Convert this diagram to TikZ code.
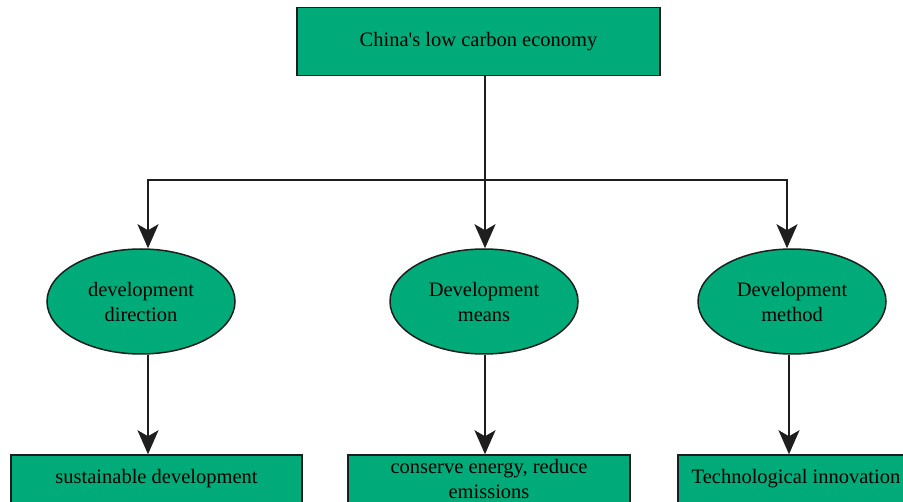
\documentclass[tikz,border=0pt]{standalone}
\usepackage{fontspec}
\setmainfont{Liberation Serif}[Ligatures=TeXOff]
\usetikzlibrary{shapes.geometric,arrows.meta}
\definecolor{boxgreen}{RGB}{0,171,122}
\definecolor{edge}{RGB}{30,30,30}
\tikzset{
  x=1pt,y=-1pt,
  box/.style={draw=edge,line width=1.5pt,fill=boxgreen,minimum width=363pt,minimum height=68pt,inner sep=0pt,align=center,font=\fontsize{20.5}{25}\selectfont},
  lowbox/.style={box,minimum width=291pt,minimum height=48pt},
  oval/.style={ellipse,draw=edge,line width=1.5pt,fill=boxgreen,minimum width=188pt,minimum height=105pt,inner sep=0pt,align=center,font=\fontsize{20.5}{25}\selectfont},
  link/.style={draw=edge,line width=2.2pt},
  arrow/.style={link,-{Stealth[length=24pt,width=21pt,inset=6pt]}}
}
\begin{document}
\begin{tikzpicture}
\useasboundingbox (0,0) rectangle (903,502);
\clip (0,0) rectangle (903,502);
\fill[white] (0,0) rectangle (903,502);
\node[box] (top) at (478.5,41.5) {China's low carbon economy};
\node[oval] (l) at (141,301.5) {development\\direction};
\node[oval] (m) at (484,301.5) {Development\\means};
\node[oval] (r) at (792,301.5) {Development\\method};
\node[lowbox] (bl) at (156.5,479) {sustainable development};
\node[lowbox,minimum width=282pt] (bm) at (489,479) {conserve energy, reduce\\emissions};
\node[lowbox,minimum width=236pt] (br) at (796,479) {Technological innovation};
\coordinate (j) at (485,180);
\draw[link] (top.south -| j) -- (j);
\draw[arrow] (j) -- (j |- m.north);
\draw[arrow] (j) -| ([xshift=7pt]l.north);
\draw[arrow] (j) -| ([xshift=-5pt]r.north);
\draw[arrow] ([xshift=7pt]l.south) -- ([xshift=7pt]l.south |- bl.north);
\draw[arrow] (j |- m.south) -- (j |- bm.north);
\draw[arrow] ([xshift=-3pt]r.south) -- ([xshift=-3pt]r.south |- br.north);
\end{tikzpicture}
\end{document}
